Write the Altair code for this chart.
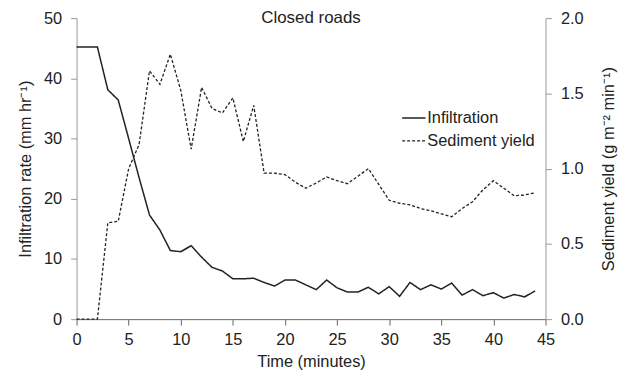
import altair as alt
import pandas as pd

time_min = list(range(0, 45))
infiltration = [45.2, 45.2, 45.2, 38.1, 36.4, 30.0, 23.5, 17.3, 14.8, 11.4,
                11.2, 12.2, 10.3, 8.6, 8.0, 6.7, 6.7, 6.8, 6.1, 5.5,
                6.5, 6.5, 5.7, 4.9, 6.5, 5.2, 4.5, 4.5, 5.3, 4.2,
                5.4, 3.8, 6.1, 4.9, 5.7, 5.0, 6.0, 4.0, 4.9, 3.9,
                4.4, 3.5, 4.1, 3.7, 4.7]
sediment = [0.0, 0.0, 0.0, 0.64, 0.65, 1.0, 1.16, 1.65, 1.56, 1.76,
            1.52, 1.13, 1.54, 1.40, 1.37, 1.47, 1.18, 1.42, 0.97, 0.97,
            0.96, 0.91, 0.87, 0.905, 0.945, 0.92, 0.90, 0.95, 1.00, 0.895,
            0.79, 0.77, 0.76, 0.735, 0.72, 0.70, 0.68, 0.735, 0.78, 0.86,
            0.92, 0.87, 0.82, 0.825, 0.84]
series_names = ["Infiltration", "Sediment yield"]
x_ticks = [0, 5, 10, 15, 20, 25, 30, 35, 40, 45]
left_ticks = [0, 10, 20, 30, 40, 50]
right_ticks = [0.0, 0.5, 1.0, 1.5, 2.0]

FONT = "Liberation Sans"
FS = 16.5

df_inf = pd.DataFrame({"t": time_min, "v": infiltration, "series": series_names[0]})
df_sed = pd.DataFrame({"t": time_min, "v": sediment, "series": series_names[1]})

dash = alt.StrokeDash(
    "series:N",
    scale=alt.Scale(domain=series_names, range=[[1, 0], [3, 2]]),
    legend=alt.Legend(
        title=None, orient="none", legendX=327, legendY=88, padding=0,
        symbolType="stroke", symbolSize=552, symbolStrokeWidth=1.4,
        symbolStrokeColor="#222", labelFont=FONT, labelFontSize=FS,
        labelColor="#222", rowPadding=2, labelOffset=1,
    ),
)

x_enc = alt.X(
    "t:Q",
    scale=alt.Scale(domain=[0, 45], nice=False),
    axis=alt.Axis(values=x_ticks, title="Time (minutes)", grid=False,
                  tickSize=6, labelPadding=7, titlePadding=5, labelFlush=False,
                  domainColor="#666", tickColor="#666"),
)

left = alt.Chart(df_inf).mark_line(color="#222", strokeWidth=1.5).encode(
    x=x_enc,
    y=alt.Y("v:Q", scale=alt.Scale(domain=[0, 50], nice=False),
            axis=alt.Axis(values=left_ticks, title="Infiltration rate (mm hr⁻¹)",
                          grid=False, tickSize=6, labelPadding=9, titlePadding=10,
                          labelFlush=False,
                          domainColor="#999", tickColor="#999")),
    strokeDash=dash,
)

right = alt.Chart(df_sed).mark_line(color="#222", strokeWidth=1.3).encode(
    x=x_enc,
    y=alt.Y("v:Q", scale=alt.Scale(domain=[0, 2], nice=False),
            axis=alt.Axis(values=right_ticks, format=".1f", orient="right",
                          title="Sediment yield (g m⁻² min⁻¹)", titleAngle=270,
                          grid=False, tickSize=6, labelPadding=9, titlePadding=34,
                          labelFlush=False,
                          domainColor="#999", tickColor="#999")),
    strokeDash=dash,
)

chart = alt.layer(left, right).resolve_scale(y="independent").properties(
    width=472, height=303,
    title=alt.TitleParams("Closed roads", font=FONT, fontSize=17, fontWeight="normal",
                          color="#222", frame="group", offset=-17, anchor="middle"),
    autosize=alt.AutoSizeParams(type="none"),
    padding={"left": 69, "top": 9, "right": 76, "bottom": 52},
).configure_view(stroke=None).configure_axis(
    labelFont=FONT, labelFontSize=FS, labelColor="#222",
    titleFont=FONT, titleFontSize=FS, titleFontWeight="normal", titleColor="#222",
)

chart.save("out.html", embed_options={"renderer": "svg", "actions": False})
